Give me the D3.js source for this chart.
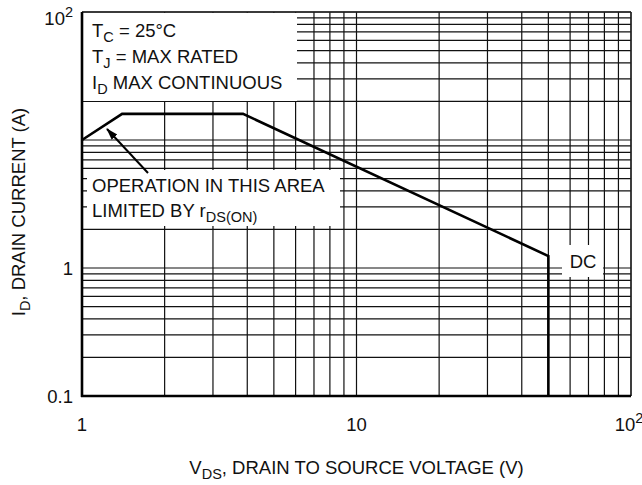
<!DOCTYPE html>
<html><head><meta charset="utf-8">
<script src="https://cdn.jsdelivr.net/npm/d3@7"></script>
<style>
body{margin:0;background:#fff}
svg{display:block}
text{font-family:"Liberation Sans",Arial,Helvetica,sans-serif;fill:#111;font-size:18.5px}
</style>
</head><body>
<svg id="c" width="642" height="485"></svg>
<script>
// ---- data ----
const soaVoltage = [1, 1.4, 3.86, 50, 50];       // V_DS (V)
const soaCurrent = [10, 16, 16, 1.24, 0.1];      // I_D (A)
const xTickValues = [1, 10, 100];
const xTickBase = ["1", "10", "10"];
const xTickSup = ["", "", "2"];
const yTickValues = [0.1, 1, 100];
const yTickBase = ["0.1", "1", "10"];
const yTickSup = ["", "", "2"];
const conditionLines = [
  [["T", ""], ["C", "sub"], [" = 25°C", ""]],
  [["T", ""], ["J", "sub"], [" = MAX RATED", ""]],
  [["I", ""], ["D", "sub"], [" MAX CONTINUOUS", ""]]
];
const regionLines = [
  [["OPERATION IN THIS AREA", ""]],
  [["LIMITED BY r", ""], ["DS(ON)", "sub"]]
];
const curveLabel = "DC";
const xTitle = [["V", ""], ["DS", "sub"], [", DRAIN TO SOURCE VOLTAGE (V)", ""]];
const yTitle = [["I", ""], ["D", "sub"], [", DRAIN CURRENT (A)", ""]];

// ---- layout ----
const W = 642, H = 485;
const m = {l: 82, t: 12, r: 11, b: 89};
const svg = d3.select("#c");
const x = d3.scaleLog().domain([1, 100]).range([m.l, W - m.r]);
const y = d3.scaleLog().domain([0.1, 100]).range([H - m.b, m.t]);
const SUB = "14.5px";

function writeParts(t, parts) {
  let prev = "";
  parts.forEach(([s, k]) => {
    const ts = t.append("tspan").text(s);
    if (k === "sub") { ts.attr("font-size", SUB).attr("dy", 4.5); }
    else if (k === "sup") { ts.attr("font-size", SUB).attr("dy", -8); }
    else { if (prev === "sub") ts.attr("dy", -4.5); if (prev === "sup") ts.attr("dy", 8); }
    prev = k;
  });
  return t;
}

// grid
const g = svg.append("g");
g.selectAll("line.vx").data(x.ticks()).join("line")
  .attr("x1", d => x(d)).attr("x2", d => x(d))
  .attr("y1", y(100)).attr("y2", y(0.1))
  .attr("stroke", "#111").attr("stroke-width", 1.2);
g.selectAll("line.hy").data(y.ticks()).join("line")
  .attr("y1", d => y(d)).attr("y2", d => y(d))
  .attr("x1", x(1)).attr("x2", x(100))
  .attr("stroke", "#111").attr("stroke-width", 1.2);

// white label boxes
const boxes = [[83, 13, 214, 88], [87, 170, 253, 56], [562, 245, 41, 32]];
svg.selectAll("rect.box").data(boxes).join("rect")
  .attr("x", d => d[0]).attr("y", d => d[1]).attr("width", d => d[2]).attr("height", d => d[3])
  .attr("fill", "#fff");

// curve
const line = d3.line().x(d => x(d[0])).y(d => y(d[1]));
svg.append("path")
  .datum(soaVoltage.map((v, i) => [v, soaCurrent[i]]))
  .attr("d", line).attr("fill", "none").attr("stroke", "#000")
  .attr("stroke-width", 2.6).attr("stroke-linejoin", "miter");

// arrow
svg.append("defs").append("marker").attr("id", "ah")
  .attr("viewBox", "0 0 12 10").attr("refX", 11).attr("refY", 5)
  .attr("markerWidth", 12).attr("markerHeight", 10).attr("markerUnits", "userSpaceOnUse")
  .attr("orient", "auto")
  .append("path").attr("d", "M0,1.2 L12,5 L0,8.8 Z").attr("fill", "#000");
svg.append("line").attr("x1", 148).attr("y1", 173).attr("x2", 107).attr("y2", 129)
  .attr("stroke", "#000").attr("stroke-width", 2).attr("marker-end", "url(#ah)");

// frame
svg.append("line").attr("x1", x(1)).attr("x2", x(100)).attr("y1", y(100)).attr("y2", y(100)).attr("stroke", "#222").attr("stroke-width", 1.3);
svg.append("line").attr("x1", x(100)).attr("x2", x(100)).attr("y1", y(100)).attr("y2", y(0.1)).attr("stroke", "#222").attr("stroke-width", 1.3);
svg.append("line").attr("x1", x(1)).attr("x2", x(1)).attr("y1", y(100)).attr("y2", y(0.1) + 1).attr("stroke", "#000").attr("stroke-width", 2.6);
svg.append("line").attr("x1", x(1) - 1).attr("x2", x(100)).attr("y1", y(0.1)).attr("y2", y(0.1)).attr("stroke", "#000").attr("stroke-width", 2.6);

// tick labels
xTickValues.forEach((v, i) => {
  const t = svg.append("text").attr("y", 431).attr("text-anchor", "middle")
    .attr("x", x(v) + (xTickSup[i] ? -2 : 0));
  writeParts(t, xTickSup[i] ? [[xTickBase[i], ""], [xTickSup[i], "sup"]] : [[xTickBase[i], ""]]);
});
yTickValues.forEach((v, i) => {
  const t = svg.append("text").attr("x", 73).attr("text-anchor", "end")
    .attr("y", yTickSup[i] ? y(v) + 13 : y(v) + 7);
  writeParts(t, yTickSup[i] ? [[yTickBase[i], ""], [yTickSup[i], "sup"]] : [[yTickBase[i], ""]]);
});

// annotations
conditionLines.forEach((parts, i) => {
  writeParts(svg.append("text").attr("x", 92).attr("y", 37 + i * 26), parts);
});
regionLines.forEach((parts, i) => {
  writeParts(svg.append("text").attr("x", 92).attr("y", 192 + i * 25), parts);
});
svg.append("text").attr("x", 583).attr("y", 268).attr("text-anchor", "middle").text(curveLabel);

// axis titles
writeParts(svg.append("text").attr("x", (x(1) + x(100)) / 2).attr("y", 474).attr("text-anchor", "middle"), xTitle);
writeParts(svg.append("text").attr("transform", `translate(25,${(y(0.1) + y(100)) / 2 + 8}) rotate(-90)`).attr("text-anchor", "middle"), yTitle);
</script>
</body></html>
